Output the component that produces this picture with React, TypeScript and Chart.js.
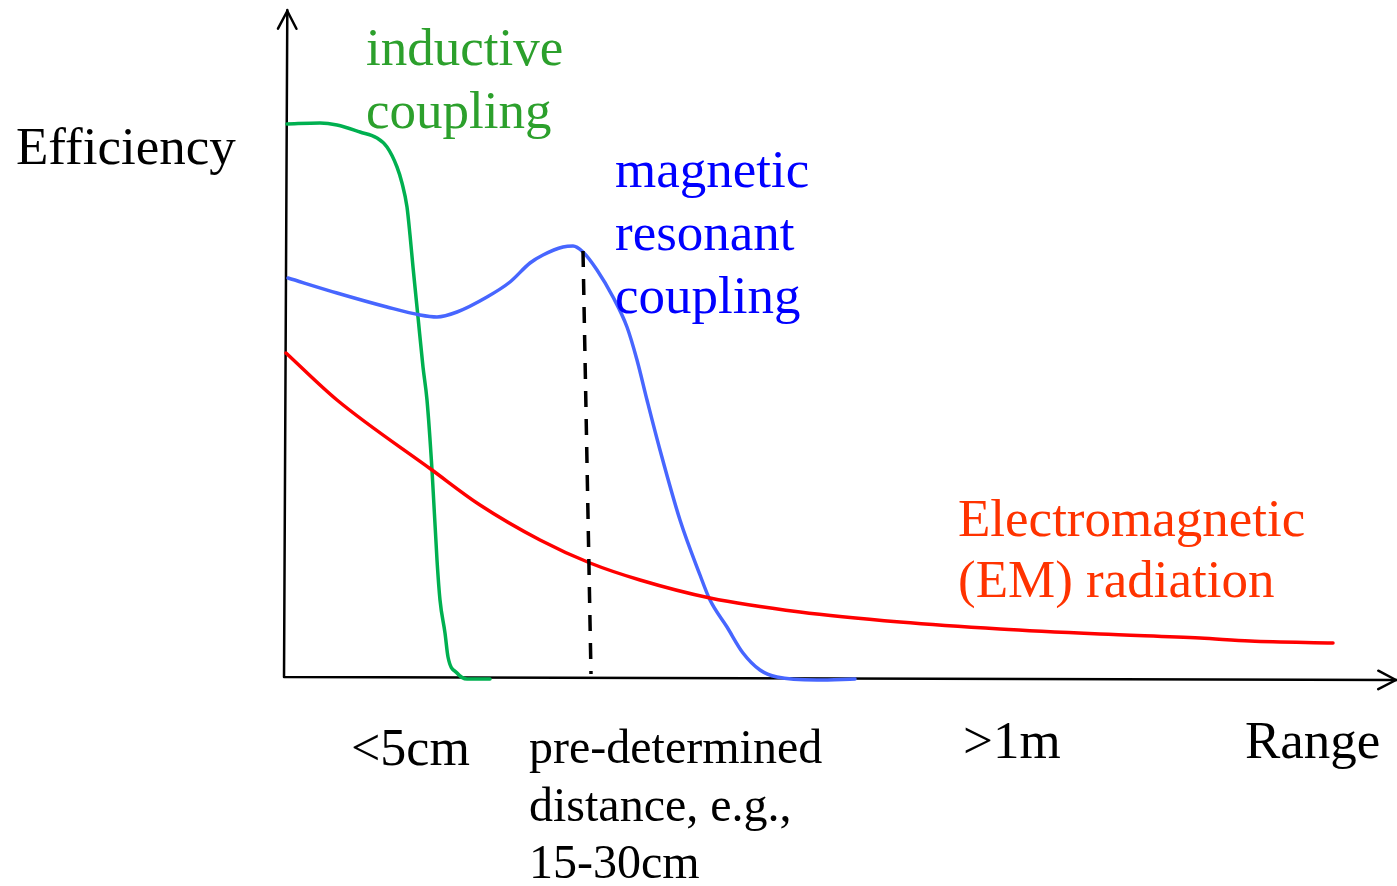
import React, { useEffect, useRef } from "react";
import { Chart, registerables } from "chart.js";

Chart.register(...registerables);

// Schematic units: range along the horizontal axis, efficiency along the vertical axis
const inductiveRange = [3, 36, 53, 76, 93, 103, 113, 118, 123, 126, 129, 134, 139, 143, 148, 153, 156, 161, 164, 173, 183, 206];
const inductiveEff = [553, 554, 552, 545, 539, 530, 510, 494, 470, 442, 410, 360, 310, 277, 207, 117, 77, 44, 20, 4, -2, -2];

const resonantRange = [4, 53, 103, 136, 153, 173, 203, 226, 246, 259, 279, 289, 299, 313, 329, 343, 353, 363, 376, 396, 416, 426, 443, 459, 476, 493, 533, 571];
const resonantEff = [399, 384, 370, 362, 360, 365, 380, 395, 414, 422, 430, 431, 425, 407, 380, 350, 317, 277, 227, 157, 102, 77, 50, 24, 7, 0, -3, -2];

const emRange = [2, 53, 148, 196, 256, 306, 356, 426, 516, 616, 716, 816, 916, 966, 1049];
const emEff = [324, 277, 207, 172, 137, 114, 97, 79, 65, 55, 48, 43, 39, 36, 34];

const markerRange = [299, 307];
const markerEff = [426, 3];

const axisXEnd = [1113, -3];
const axisYEnd = [3.3, 667];

const inductiveLabel = ["inductive", "coupling"];
const resonantLabel = ["magnetic", "resonant", "coupling"];
const emLabel = ["Electromagnetic", "(EM) radiation"];
const yTitle = ["Efficiency"];
const xTitle = ["Range"];
const nearLabel = ["<5cm"];
const midLabel = ["pre-determined", "distance, e.g.,", "15-30cm"];
const farLabel = [">1m"];

const toPts = (xs: number[], ys: number[]) => xs.map((x, i) => ({ x, y: ys[i] }));

const FONT = '"Liberation Serif", "Times New Roman", serif';

const annotations = [
  { lines: yTitle, x: -268, y: 513, size: 53, lh: 62, color: "#000000" },
  { lines: inductiveLabel, x: 82, y: 612, size: 53, lh: 63, color: "#2ca02c" },
  { lines: resonantLabel, x: 331, y: 490, size: 53, lh: 63, color: "#0000ff" },
  { lines: emLabel, x: 674, y: 141, size: 53, lh: 61, color: "#ff3300" },
  { lines: nearLabel, x: 67, y: -88, size: 52, lh: 60, color: "#000000" },
  { lines: midLabel, x: 245, y: -86, size: 48, lh: 57.5, color: "#000000" },
  { lines: farLabel, x: 679, y: -81, size: 53, lh: 60, color: "#000000" },
  { lines: xTitle, x: 961, y: -81, size: 53, lh: 60, color: "#000000" },
];

const axesPlugin = {
  id: "schematicAxes",
  beforeDatasetsDraw(chart: any) {
    const { ctx, scales } = chart;
    const sx = scales.x;
    const sy = scales.y;
    const ox = sx.getPixelForValue(0);
    const oy = sy.getPixelForValue(0);
    const xe = [sx.getPixelForValue(axisXEnd[0]), sy.getPixelForValue(axisXEnd[1])];
    const ye = [sx.getPixelForValue(axisYEnd[0]), sy.getPixelForValue(axisYEnd[1])];
    ctx.save();
    ctx.strokeStyle = "#000";
    ctx.lineWidth = 2.5;
    ctx.lineCap = "round";
    ctx.lineJoin = "round";
    ctx.beginPath();
    ctx.moveTo(ox, oy);
    ctx.lineTo(xe[0], xe[1]);
    ctx.moveTo(ox, oy);
    ctx.lineTo(ye[0], ye[1]);
    ctx.stroke();
    const head = (tx: number, ty: number, fx: number, fy: number) => {
      const ang = Math.atan2(ty - fy, tx - fx);
      const len = 20;
      const spread = 0.48;
      ctx.beginPath();
      ctx.moveTo(tx - len * Math.cos(ang - spread), ty - len * Math.sin(ang - spread));
      ctx.lineTo(tx, ty);
      ctx.lineTo(tx - len * Math.cos(ang + spread), ty - len * Math.sin(ang + spread));
      ctx.stroke();
    };
    head(xe[0] - 1, xe[1], ox, oy);
    head(ye[0], ye[1] + 1, ox, oy);
    ctx.restore();
  },
  afterDatasetsDraw(chart: any) {
    const { ctx, scales } = chart;
    ctx.save();
    ctx.textBaseline = "alphabetic";
    ctx.textAlign = "left";
    for (const a of annotations) {
      ctx.font = `${a.size}px ${FONT}`;
      ctx.fillStyle = a.color;
      const px = scales.x.getPixelForValue(a.x);
      const py = scales.y.getPixelForValue(a.y);
      a.lines.forEach((line, i) => ctx.fillText(line, px, py + i * a.lh));
    }
    ctx.restore();
  },
};

export default function App() {
  const ref = useRef<HTMLCanvasElement | null>(null);
  useEffect(() => {
    if (!ref.current) return;
    const line = (data: any[], color: string, extra: any = {}) => ({
      data,
      showLine: true,
      borderColor: color,
      backgroundColor: color,
      borderWidth: 3.5,
      pointRadius: 0,
      pointHoverRadius: 0,
      cubicInterpolationMode: "monotone",
      borderCapStyle: "round",
      borderJoinStyle: "round",
      clip: false,
      fill: false,
      ...extra,
    });
    const chart = new Chart(ref.current, {
      type: "scatter",
      data: {
        datasets: [
          line(toPts(markerRange, markerEff), "#000000", { borderDash: [16, 12], borderWidth: 3.5, borderCapStyle: "butt", cubicInterpolationMode: "default", tension: 0 }),
          line(toPts(emRange, emEff), "#ff0000"),
          line(toPts(resonantRange, resonantEff), "#4766ff"),
          line(toPts(inductiveRange, inductiveEff), "#00b050"),
        ] as any,
      },
      options: {
        animation: false,
        responsive: false,
        maintainAspectRatio: false,
        events: [],
        layout: { padding: 0 },
        plugins: { legend: { display: false }, tooltip: { enabled: false }, title: { display: false } },
        scales: {
          x: { type: "linear", min: -284, max: 1113, display: false },
          y: { type: "linear", min: -209, max: 677, display: false },
        },
      },
      plugins: [axesPlugin],
    } as any);
    return () => chart.destroy();
  }, []);
  return (
    <div style={{ position: "fixed", left: 0, top: 0, width: 1397, height: 886, background: "#fff" }}>
      <canvas ref={ref} width={1397} height={886} style={{ display: "block" }} />
    </div>
  );
}
